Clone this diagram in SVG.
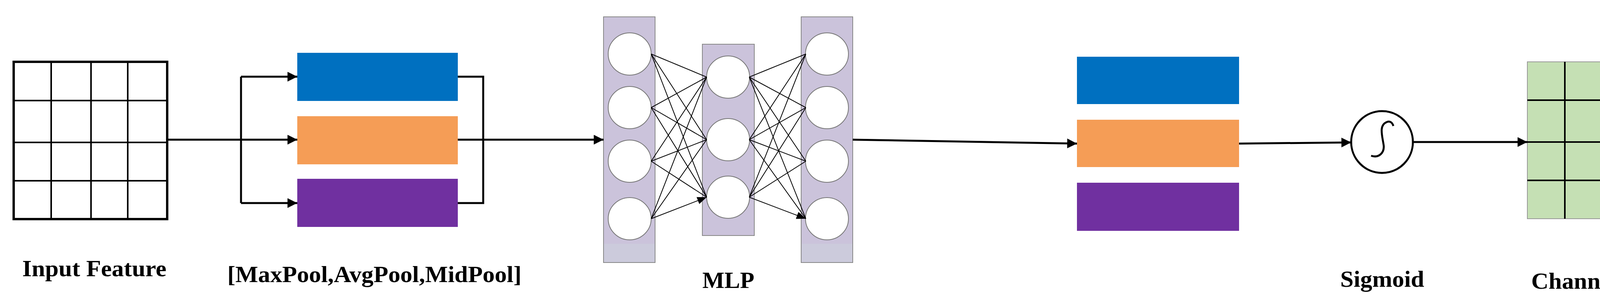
<svg xmlns="http://www.w3.org/2000/svg" width="4373" height="777" viewBox="0 0 4373 777">
<style>
.t{font-family:"Liberation Serif",serif;font-weight:bold;font-size:60px;fill:#000}
.c{stroke:#000;stroke-width:5;fill:none}
.n{stroke:#000;stroke-width:2;fill:none}
.col{fill:#cbc3db;stroke:#888;stroke-width:2}
.neu{fill:#fff;stroke:#777;stroke-width:2}
.g{stroke:#000;stroke-width:4}
</style>
<defs>
<marker id="a" viewBox="0 0 10 10" refX="10" refY="5" markerWidth="5" markerHeight="5" orient="auto" markerUnits="strokeWidth"><path d="M0,0L10,5L0,10z"/></marker>
<marker id="s" viewBox="0 0 10 10" refX="10" refY="5" markerWidth="12" markerHeight="12" orient="auto" markerUnits="strokeWidth"><path d="M0,1L10,5L0,9z"/></marker>
</defs>
<g id="input">
<rect x="35" y="158" width="393" height="402" fill="#fff" stroke="#000" stroke-width="6"/>
<path class="g" d="M131,158V560M233,158V560M327,158V560M35,257H428M35,364H428M35,462H428"/>
<text class="t" x="57" y="706" textLength="369" lengthAdjust="spacingAndGlyphs">Input Feature</text>
</g>
<g id="pool">
<rect x="761" y="135" width="411" height="123" fill="#0070c0"/>
<rect x="761" y="297" width="411" height="123" fill="#f59d56"/>
<rect x="761" y="457" width="411" height="123" fill="#7030a0"/>
<text class="t" x="582" y="721" textLength="753" lengthAdjust="spacingAndGlyphs">[MaxPool,AvgPool,MidPool]</text>
</g>
<g id="mlp">
<rect class="col" x="1545" y="43" width="132" height="628"/>
<rect x="1546" y="623" width="130" height="47" fill="#cccbdc"/>
<rect class="col" x="1798" y="113" width="133" height="489"/>
<rect class="col" x="2051" y="43" width="132" height="628"/>
<rect x="2052" y="623" width="130" height="47" fill="#cccbdc"/>
<ellipse class="neu" cx="1612" cy="138" rx="55" ry="54"/>
<ellipse class="neu" cx="1612" cy="275" rx="55" ry="54"/>
<ellipse class="neu" cx="1612" cy="412" rx="55" ry="54"/>
<ellipse class="neu" cx="1612" cy="559" rx="55" ry="54"/>
<ellipse class="neu" cx="1864" cy="197" rx="55" ry="54"/>
<ellipse class="neu" cx="1864" cy="357" rx="55" ry="54"/>
<ellipse class="neu" cx="1864" cy="504" rx="55" ry="54"/>
<ellipse class="neu" cx="2117" cy="138" rx="55" ry="54"/>
<ellipse class="neu" cx="2117" cy="275" rx="55" ry="54"/>
<ellipse class="neu" cx="2117" cy="412" rx="55" ry="54"/>
<ellipse class="neu" cx="2117" cy="559" rx="55" ry="54"/>
<text class="t" x="1798" y="736" textLength="133" lengthAdjust="spacingAndGlyphs">MLP</text>
</g>
<g id="out">
<rect x="2757" y="145" width="415" height="121" fill="#0070c0"/>
<rect x="2757" y="306" width="415" height="121" fill="#f59d56"/>
<rect x="2757" y="467" width="415" height="123" fill="#7030a0"/>
</g>
<g id="sigmoid">
<ellipse cx="3538" cy="363" rx="79" ry="79" fill="#fff" stroke="#000" stroke-width="5"/>
<path d="M3510,398C3530,405 3545,390 3542,370C3538,345 3530,320 3550,312C3560,308 3565,315 3567,322" fill="none" stroke="#000" stroke-width="5"/>
<text class="t" x="3431" y="733" textLength="215" lengthAdjust="spacingAndGlyphs">Sigmoid</text>
</g>
<g id="channel">
<rect x="3910" y="158" width="397" height="401" fill="#c5e0b4" stroke="#999" stroke-width="2"/>
<path class="g" d="M4006,158V559M4109,158V559M4205,158V559M3910,256H4307M3910,363H4307M3910,461H4307"/>
<text class="t" x="3920" y="738" textLength="440" lengthAdjust="spacingAndGlyphs">Channel Feature</text>
</g>
<g id="connectors">
<path class="c" d="M428,357H617"/>
<path class="c" d="M617,196V519"/>
<path class="c" d="M617,196H761" marker-end="url(#a)"/>
<path class="c" d="M617,357H761" marker-end="url(#a)"/>
<path class="c" d="M617,519H761" marker-end="url(#a)"/>
<path class="c" d="M1172,196H1237V519H1172M1172,357H1545" marker-end="url(#a)"/>
<path class="c" d="M2183,357L2757,367" marker-end="url(#a)"/>
<path class="c" d="M3172,367L3459,364" marker-end="url(#a)"/>
<path class="c" d="M3617,363H3910" marker-end="url(#a)"/>
<g class="n">
<path d="M1667,138L1809,197M1667,138L1809,357M1667,138L1809,504M1667,275L1809,197M1667,275L1809,357M1667,275L1809,504M1667,412L1809,197M1667,412L1809,357M1667,412L1809,504M1667,559L1809,197M1667,559L1809,357M1667,559L1809,504" marker-end="url(#s)"/>
<path d="M1918,197L2063,138M1918,197L2063,275M1918,197L2063,412M1918,197L2063,559M1918,357L2063,138M1918,357L2063,275M1918,357L2063,412M1918,357L2063,559M1918,504L2063,138M1918,504L2063,275M1918,504L2063,412M1918,504L2063,559" marker-end="url(#s)"/>
</g>
</g>
</svg>
